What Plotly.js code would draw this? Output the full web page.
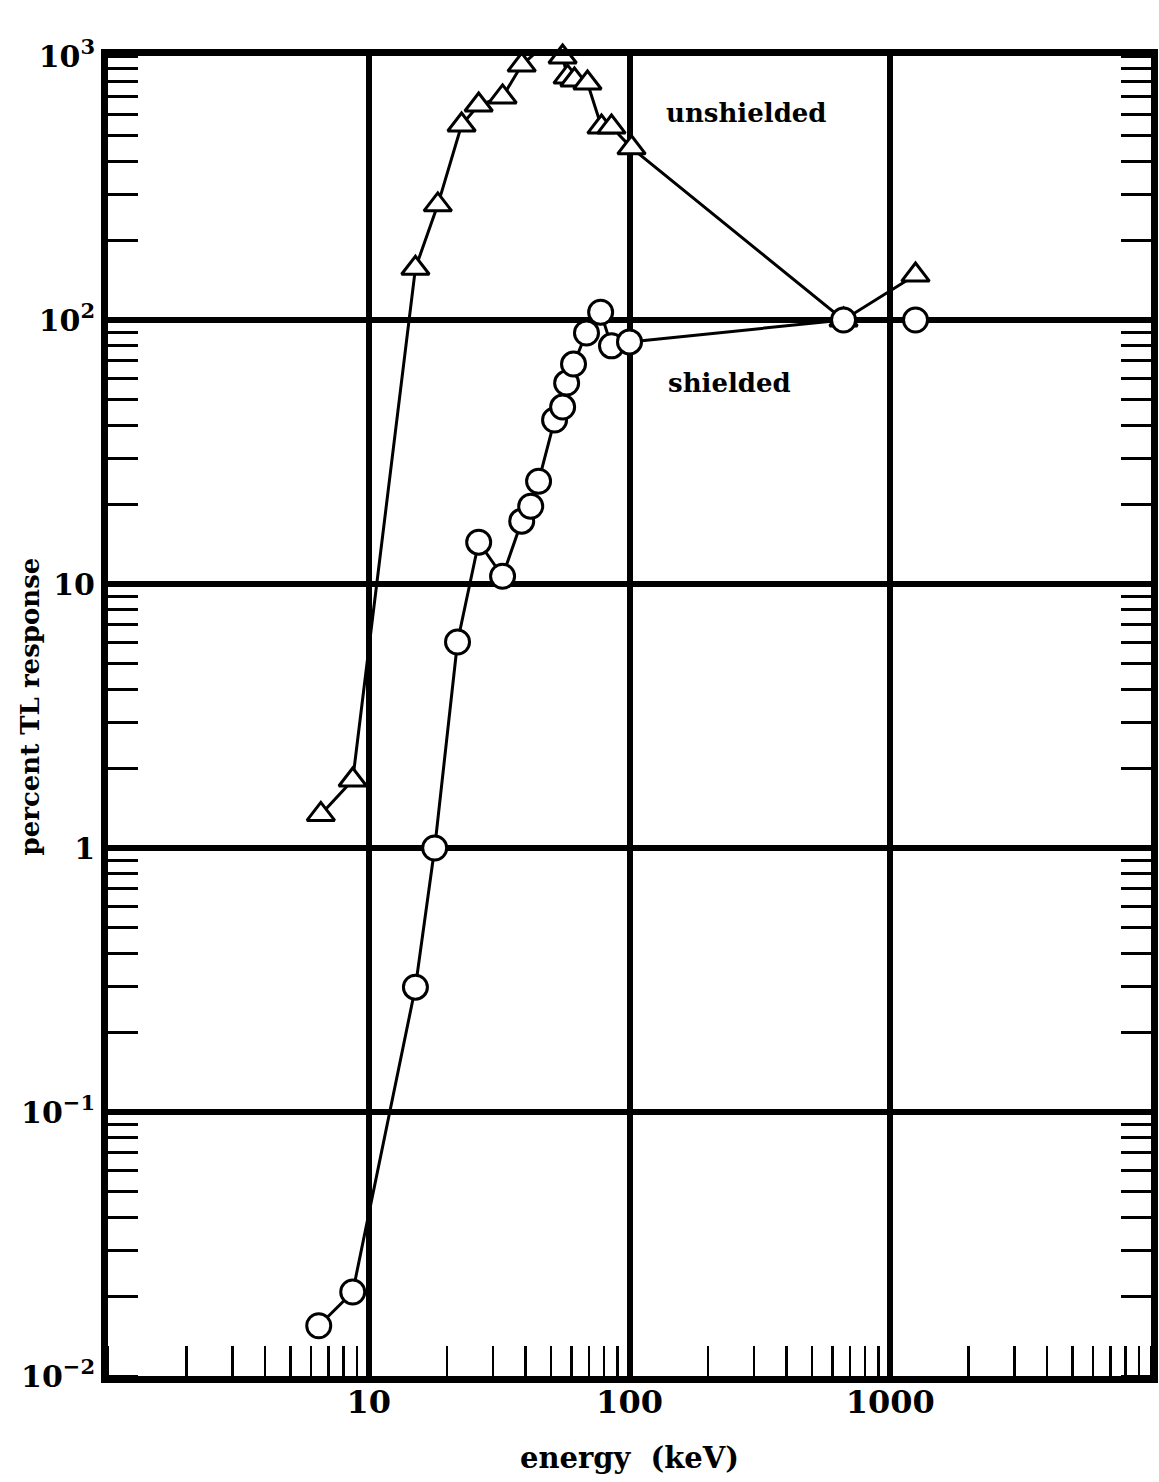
<!DOCTYPE html>
<html>
<head>
<meta charset="utf-8">
<script src="https://cdn.plot.ly/plotly-3.0.1.min.js"></script>
<style>html,body{margin:0;padding:0;background:#fff;}#chart{width:1159px;height:1482px;}</style>
</head>
<body>
<div id="chart"></div>
<script>
// Unshielded dosimeter (triangles)
const energyUnshielded = [6.55, 8.68, 15.1, 18.4, 22.7, 26.4, 32.6, 38.6, 44.0, 53.0, 55.4, 57.9, 61.5, 69.0, 78.1, 85.3, 101.8, 662, 1250];
const responseUnshielded = [1.34, 1.81, 157, 273, 548, 652, 700, 924, 1036, 1120, 991, 832, 811, 790, 538, 538, 449, 100, 148];

// Shielded dosimeter (circles)
const energyShielded = [6.43, 8.68, 15.1, 17.9, 21.9, 26.4, 32.6, 38.6, 41.8, 44.8, 51.6, 55.4, 57.4, 61.0, 68.4, 77.5, 85.3, 100, 662, 1250];
const responseShielded = [0.0155, 0.0208, 0.297, 1.0, 6.03, 14.4, 10.7, 17.3, 19.7, 24.5, 41.8, 46.8, 57.7, 68.1, 89.3, 107, 79.8, 82.6, 100, 100];

// Axis tick labels
const xTickVals = [10, 100, 1000];
const xTickText = ['10', '100', '1000'];
const yTickVals = [0.01, 0.1, 1, 10, 100, 1000];
const yTickText = ['10<sup>\u22122</sup>', '10<sup>\u22121</sup>', '1', '10', '10<sup>2</sup>', '10<sup>3</sup>'];

const FONT = '"DejaVu Serif", "Liberation Serif", serif';

const traces = [
  {
    x: energyUnshielded, y: responseUnshielded, name: 'unshielded',
    mode: 'lines+markers', type: 'scatter', cliponaxis: false,
    line: {color: 'black', width: 3},
    marker: {symbol: 'triangle-up', size: 24, color: 'white', line: {color: 'black', width: 3}}
  },
  {
    x: energyShielded, y: responseShielded, name: 'shielded',
    mode: 'lines+markers', type: 'scatter', cliponaxis: false,
    line: {color: 'black', width: 3},
    marker: {symbol: 'circle', size: 24, color: 'white', line: {color: 'black', width: 3}}
  }
];

const layout = {
  width: 1159, height: 1482,
  margin: {l: 108, r: 8, t: 56, b: 106},
  paper_bgcolor: 'white', plot_bgcolor: 'white',
  showlegend: false,
  font: {family: FONT, color: 'black'},
  xaxis: {
    type: 'log', range: [0, 4],
    tickmode: 'array', tickvals: xTickVals, ticktext: xTickText,
    ticks: '', showgrid: true, gridcolor: 'black', gridwidth: 6,
    showline: true, linecolor: 'black', linewidth: 7, mirror: true,
    zeroline: false,
    tickfont: {family: FONT, size: 32, color: 'black', weight: 'bold'},
    ticklabelstandoff: -8,
    minor: {ticks: 'inside', ticklen: 30, tickwidth: 2.5, tickcolor: 'black', dtick: 'D1', showgrid: false},
    title: {text: 'energy  (keV)', font: {family: FONT, size: 29, color: 'black', weight: 'bold'}, standoff: 30}
  },
  yaxis: {
    type: 'log', range: [-2, 3],
    tickmode: 'array', tickvals: yTickVals, ticktext: yTickText,
    ticks: '', showgrid: true, gridcolor: 'black', gridwidth: 6,
    showline: true, linecolor: 'black', linewidth: 7, mirror: 'ticks',
    zeroline: false,
    tickfont: {family: FONT, size: 30, color: 'black', weight: 'bold'},
    ticklabelstandoff: 0,
    minor: {ticks: 'inside', ticklen: 30, tickwidth: 3, tickcolor: 'black', dtick: 'D1', showgrid: false}
  },
  annotations: [
    {xref: 'paper', yref: 'paper', x: -0.075, y: 0.507, xanchor: 'center', yanchor: 'middle', textangle: -90,
     text: 'percent TL response', showarrow: false,
     font: {family: FONT, size: 26, color: 'black', weight: 'bold'}},
    {xref: 'paper', yref: 'paper', x: 0.612, y: 0.957, xanchor: 'center', yanchor: 'middle', text: 'unshielded', showarrow: false,
     font: {family: FONT, size: 26, color: 'black', weight: 'bold'}},
    {xref: 'paper', yref: 'paper', x: 0.596, y: 0.752, xanchor: 'center', yanchor: 'middle', text: 'shielded', showarrow: false,
     font: {family: FONT, size: 26, color: 'black', weight: 'bold'}}
  ]
};

Plotly.newPlot('chart', traces, layout, {staticPlot: true, displayModeBar: false});
</script>
</body>
</html>
